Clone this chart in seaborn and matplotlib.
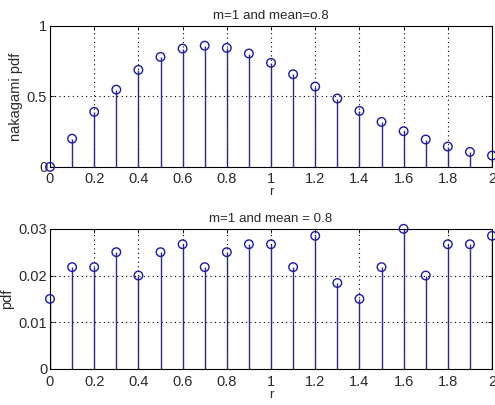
import numpy as np
import pandas as pd
import matplotlib
matplotlib.use("Agg")
import matplotlib.pyplot as plt
import seaborn as sns

r = [0.0, 0.1, 0.2, 0.3, 0.4, 0.5, 0.6, 0.7, 0.8, 0.9, 1.0,
     1.1, 1.2, 1.3, 1.4, 1.5, 1.6, 1.7, 1.8, 1.9, 2.0]
nakagami_pdf = [0.0, 0.20, 0.39, 0.548, 0.688, 0.78, 0.839, 0.86, 0.844, 0.804, 0.738,
                0.657, 0.570, 0.485, 0.397, 0.319, 0.253, 0.194, 0.144, 0.106, 0.080]
est_pdf = [0.015, 0.0218, 0.0218, 0.025, 0.020, 0.025, 0.0267, 0.0218, 0.025, 0.0267, 0.0267,
           0.0218, 0.0285, 0.0184, 0.015, 0.0218, 0.030, 0.020, 0.0267, 0.0267, 0.0285]
xticks = [0, 0.2, 0.4, 0.6, 0.8, 1, 1.2, 1.4, 1.6, 1.8, 2]
xticklabels = ["0", "0.2", "0.4", "0.6", "0.8", "1", "1.2", "1.4", "1.6", "1.8", "2"]
yticks_top = [0, 0.5, 1]
yticklabels_top = ["0", "0.5", "1"]
yticks_bot = [0, 0.01, 0.02, 0.03]
yticklabels_bot = ["0", "0.01", "0.02", "0.03"]

sns.set_theme(style="white")
plt.rcParams["font.family"] = ["Liberation Sans", "DejaVu Sans"]

stem_color = "#2a2a8c"
mark_color = "#1a1aa8"
text_color = "#2a2a2a"

fig = plt.figure(figsize=(4.95, 4.05), dpi=100)
ax1 = fig.add_axes([0.101, 0.588, 0.893, 0.348])
ax2 = fig.add_axes([0.101, 0.089, 0.893, 0.346])

def draw(ax, y, yticks, yticklabels, ylim, title, ylabel):
    df = pd.DataFrame({"r": r, "v": y})
    ax.set_axisbelow(True)
    ax.grid(True, linestyle=(0, (1, 3)), color="black", linewidth=0.8)
    ax.vlines(df["r"], 0, df["v"], color=stem_color, linewidth=1.0, zorder=2)
    sns.scatterplot(data=df, x="r", y="v", ax=ax, marker="o", s=38,
                    facecolors="none", edgecolor=mark_color, linewidth=1.0,
                    zorder=3, clip_on=False, legend=False)
    ax.set_xlim(0, 2)
    ax.set_ylim(*ylim)
    ax.set_xticks(xticks)
    ax.set_xticklabels(xticklabels)
    ax.set_yticks(yticks)
    ax.set_yticklabels(yticklabels)
    ax.tick_params(axis="both", direction="in", length=3, width=0.6,
                   top=True, right=True, bottom=True, left=True,
                   labelsize=10.5, colors="black", labelcolor=text_color)
    ax.tick_params(axis="x", pad=4)
    ax.tick_params(axis="y", pad=2)
    for s in ax.spines.values():
        s.set_color("black")
        s.set_linewidth(0.8)
    ax.set_title(title, fontsize=9.6, color=text_color, pad=5)
    ax.set_xlabel("r", fontsize=9.6, color=text_color, labelpad=0)
    ax.set_ylabel(ylabel, fontsize=10.5, color=text_color, labelpad=3)

draw(ax1, nakagami_pdf, yticks_top, yticklabels_top, (0, 1),
     "m=1 and mean=o.8", "nakagami pdf")
draw(ax2, est_pdf, yticks_bot, yticklabels_bot, (0, 0.03),
     "m=1 and mean = 0.8", "pdf")

fig.savefig("out.png", dpi=100, facecolor="white")
